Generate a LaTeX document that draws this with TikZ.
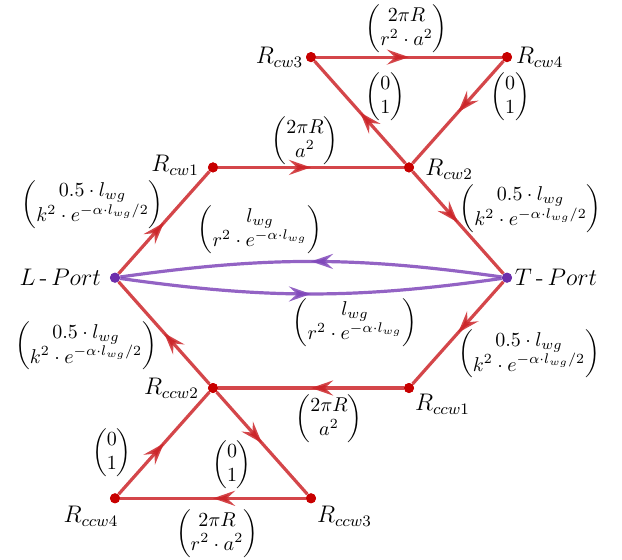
\documentclass[tikz,border=0pt]{standalone}
\usepackage{amsmath}
\usetikzlibrary{arrows.meta,decorations.markings}
\definecolor{ringred}{RGB}{204,38,42}
\definecolor{ringdot}{RGB}{200,0,0}
\definecolor{busviolet}{RGB}{128,72,186}
\definecolor{busdot}{RGB}{108,46,172}
\tikzset{
  mid arrow/.style={postaction={decorate},decoration={markings,
      mark=at position 0.5 with {\arrow{Stealth[length=11pt,width=7.5pt,inset=4pt]}}}},
  ring/.style={ringred, draw opacity=0.85, line width=1.6pt, mid arrow},
  bus/.style={busviolet, draw opacity=0.85, line width=1.6pt, mid arrow},
  junction/.style={circle, fill=ringdot, inner sep=0pt, minimum size=5pt},
  port/.style={circle, fill=busdot, inner sep=0pt, minimum size=5pt},
  lbl/.style={inner sep=1pt, text=black, font=\large},
  wt/.style={inner sep=0.5pt, text=black},
}
\begin{document}
\begin{tikzpicture}[x=49pt, y=55.15pt]
  \useasboundingbox (-57.5pt,-140.65pt) rectangle (253.5pt,138.85pt);
  % ports
  \node[port, label={[lbl, xshift=-3.2pt]left:$L\,\text{-}\,Port$}] (Lport) at (0,0) {};
  \node[port, label={[lbl]right:$T\,\text{-}\,Port$}] (Tport) at (4,0) {};
  % clockwise ring
  \node[junction, label={[lbl, xshift=-3.2pt, yshift=1pt]left:$R_{cw1}$}] (cw1) at (1,1) {};
  \node[junction, label={[lbl, xshift=4.3pt, yshift=-1pt]right:$R_{cw2}$}] (cw2) at (3,1) {};
  \node[junction, label={[lbl]left:$R_{cw3}$}] (cw3) at (2,2) {};
  \node[junction, label={[lbl, xshift=0.6pt]right:$R_{cw4}$}] (cw4) at (4,2) {};
  % counter-clockwise ring
  \node[junction, label={[lbl]below right:$R_{ccw1}$}] (ccw1) at (3,-1) {};
  \node[junction, label={[lbl, xshift=-3.2pt]left:$R_{ccw2}$}] (ccw2) at (1,-1) {};
  \node[junction, label={[lbl, yshift=-1pt]below right:$R_{ccw3}$}] (ccw3) at (2,-2) {};
  \node[junction, label={[lbl, xshift=-12pt]below:$R_{ccw4}$}] (ccw4) at (0,-2) {};

  \draw[ring] (Lport) -- node[wt, shift={(-35.7pt,9pt)}] {$\begin{pmatrix} 0.5\cdot l_{wg}\\ k^2\cdot e^{-\alpha\cdot l_{wg}/2}\end{pmatrix}$} (cw1);
  \draw[ring] (cw1) -- node[wt, shift={(-3pt,13.5pt)}] {$\begin{pmatrix} 2\pi R\\ a^2\end{pmatrix}$} (cw2);
  \draw[ring] (cw2) -- node[wt, shift={(12.7pt,8pt)}] {$\begin{pmatrix} 0\\ 1\end{pmatrix}$} (cw3);
  \draw[ring] (cw3) -- node[wt, shift={(-1.2pt,14pt)}] {$\begin{pmatrix} 2\pi R\\ r^2\cdot a^2\end{pmatrix}$} (cw4);
  \draw[ring] (cw4) -- node[wt, shift={(26pt,8pt)}] {$\begin{pmatrix} 0\\ 1\end{pmatrix}$} (cw2);
  \draw[ring] (cw2) -- node[wt, shift={(36.3pt,7pt)}] {$\begin{pmatrix} 0.5\cdot l_{wg}\\ k^2\cdot e^{-\alpha\cdot l_{wg}/2}\end{pmatrix}$} (Tport);

  \draw[ring] (Tport) -- node[wt, shift={(35.5pt,-10.5pt)}] {$\begin{pmatrix} 0.5\cdot l_{wg}\\ k^2\cdot e^{-\alpha\cdot l_{wg}/2}\end{pmatrix}$} (ccw1);
  \draw[ring] (ccw1) -- node[wt, shift={(9pt,-15.5pt)}] {$\begin{pmatrix} 2\pi R\\ a^2\end{pmatrix}$} (ccw2);
  \draw[ring] (ccw2) -- node[wt, shift={(-15pt,-11pt)}] {$\begin{pmatrix} 0\\ 1\end{pmatrix}$} (ccw3);
  \draw[ring] (ccw3) -- node[wt, shift={(2pt,-17.5pt)}] {$\begin{pmatrix} 2\pi R\\ r^2\cdot a^2\end{pmatrix}$} (ccw4);
  \draw[ring] (ccw4) -- node[wt, shift={(-26pt,-5pt)}] {$\begin{pmatrix} 0\\ 1\end{pmatrix}$} (ccw2);
  \draw[ring] (ccw2) -- node[wt, shift={(-39pt,-6.5pt)}] {$\begin{pmatrix} 0.5\cdot l_{wg}\\ k^2\cdot e^{-\alpha\cdot l_{wg}/2}\end{pmatrix}$} (Lport);

  % direct waveguide between the ports
  \draw[bus] (Tport) to[bend right=8] node[wt, shift={(-25.5pt,16pt)}] {$\begin{pmatrix} l_{wg}\\ r^2\cdot e^{-\alpha\cdot l_{wg}}\end{pmatrix}$} (Lport);
  \draw[bus] (Lport) to[bend right=8] node[wt, shift={(22pt,-14.2pt)}] {$\begin{pmatrix} l_{wg}\\ r^2\cdot e^{-\alpha\cdot l_{wg}}\end{pmatrix}$} (Tport);

  % dots on top of the lines
  \foreach \n in {cw1,cw2,cw3,cw4,ccw1,ccw2,ccw3,ccw4}
    \fill[ringdot] (\n) circle (2.5pt);
  \foreach \n in {Lport,Tport}
    \fill[busdot] (\n) circle (2.5pt);
\end{tikzpicture}
\end{document}
